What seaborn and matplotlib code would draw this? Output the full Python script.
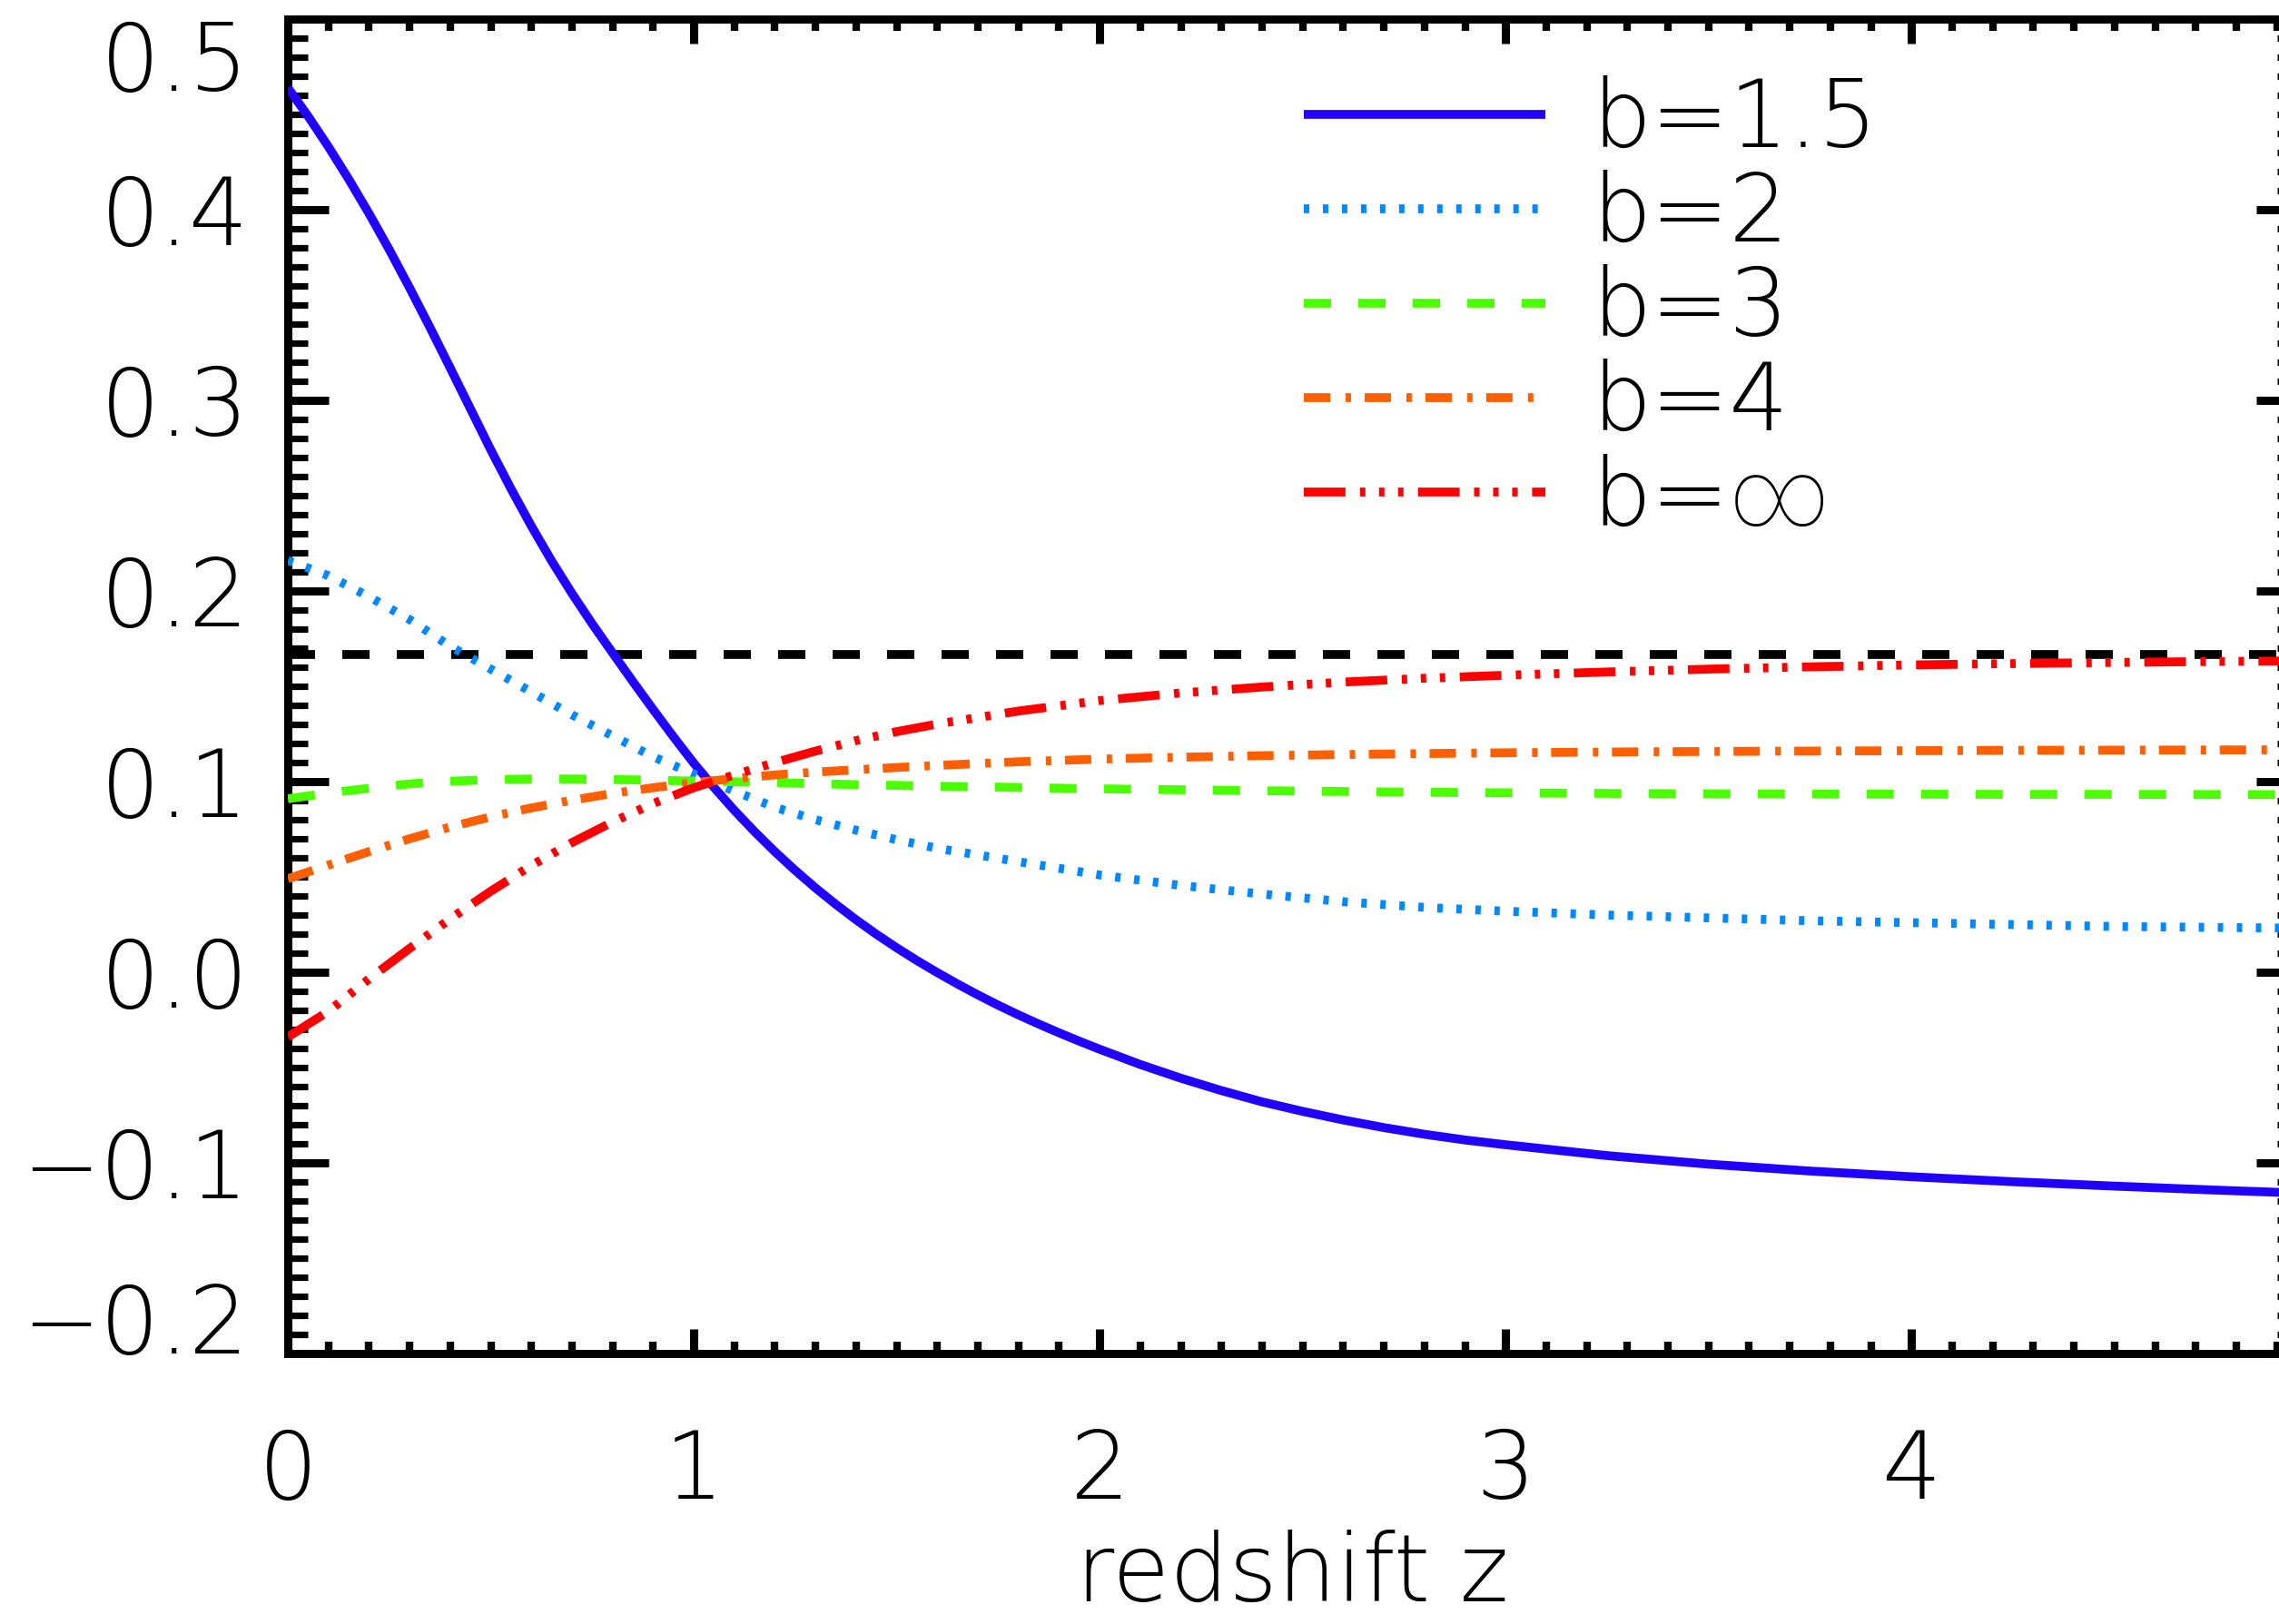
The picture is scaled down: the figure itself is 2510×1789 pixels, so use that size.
import matplotlib
matplotlib.use("Agg")
import matplotlib.pyplot as plt
import seaborn as sns
import pandas as pd
from matplotlib import font_manager as fm
from matplotlib.ticker import FixedLocator, FixedFormatter, MultipleLocator

# ---------------- data ----------------
# b = 1.5 (steep curve, read on a finer redshift grid)
z_b15 = [0.0, 0.05, 0.1, 0.15, 0.2, 0.25, 0.3, 0.35, 0.4, 0.45, 0.5, 0.55, 0.6,
         0.65, 0.7, 0.75, 0.8, 0.85, 0.9, 0.95, 1.0, 1.05, 1.1, 1.15, 1.2, 1.25,
         1.3, 1.35, 1.4, 1.45, 1.5, 1.55, 1.6, 1.65, 1.7, 1.75, 1.8, 1.85, 1.9,
         1.95, 2.0, 2.1, 2.2, 2.3, 2.4, 2.5, 2.6, 2.7, 2.8, 2.9, 3.0, 3.25, 3.5,
         3.75, 4.0, 4.25, 4.5, 4.75, 5.0]
b_1p5 = [0.464, 0.449, 0.433, 0.416, 0.398, 0.379, 0.359, 0.3383, 0.317, 0.2955,
         0.274, 0.2535, 0.234, 0.2157, 0.1987, 0.1827, 0.1675, 0.1525, 0.1378,
         0.1235, 0.1097, 0.0969, 0.0849, 0.0737, 0.0632, 0.0534, 0.0442, 0.0356,
         0.0275, 0.0199, 0.0128, 0.0061, -0.0002, -0.0062, -0.0119, -0.0173,
         -0.0224, -0.0272, -0.0318, -0.0362, -0.0404, -0.0484, -0.0556, -0.0621,
         -0.0680, -0.0730, -0.0775, -0.0815, -0.0850, -0.0880, -0.0905, -0.0962,
         -0.1007, -0.1043, -0.1073, -0.1099, -0.1122, -0.1143, -0.1162]

# other curves
z = [0.0, 0.1, 0.2, 0.3, 0.4, 0.5, 0.6, 0.7, 0.8, 0.9, 1.0, 1.1, 1.2, 1.3, 1.4,
     1.5, 1.6, 1.8, 2.0, 2.2, 2.4, 2.6, 2.8, 3.0, 3.25, 3.5, 3.75, 4.0, 4.25,
     4.5, 4.75, 5.0]
b_2 = [0.216, 0.208, 0.197, 0.185, 0.171, 0.159, 0.147, 0.135, 0.124, 0.113,
       0.104, 0.095, 0.0865, 0.080, 0.0745, 0.0695, 0.065, 0.058, 0.051, 0.0455,
       0.041, 0.037, 0.034, 0.032, 0.030, 0.0285, 0.027, 0.026, 0.025, 0.024,
       0.0235, 0.023]
b_3 = [0.091, 0.094, 0.0965, 0.0988, 0.1002, 0.1010, 0.1014, 0.1014, 0.1011,
       0.1007, 0.1003, 0.0999, 0.0994, 0.0989, 0.0984, 0.0980, 0.0976, 0.0969,
       0.0962, 0.0957, 0.0952, 0.0948, 0.0944, 0.0941, 0.0938, 0.0936, 0.0935,
       0.0934, 0.0933, 0.0933, 0.0932, 0.0932]
b_4 = [0.049, 0.0562, 0.0633, 0.0700, 0.0762, 0.0815, 0.0862, 0.0902, 0.0938,
       0.0968, 0.0994, 0.1016, 0.1035, 0.1050, 0.1062, 0.1074, 0.1085, 0.1104,
       0.1118, 0.1128, 0.1136, 0.1142, 0.1147, 0.1151, 0.1155, 0.1158, 0.1160,
       0.1162, 0.1164, 0.1165, 0.1166, 0.1167]
b_inf = [-0.034, -0.0205, -0.0035, 0.0125, 0.0280, 0.0425, 0.0560, 0.0680,
         0.0788, 0.0885, 0.0968, 0.1035, 0.1100, 0.1160, 0.1215, 0.1262, 0.1302,
         0.1370, 0.1425, 0.1465, 0.1496, 0.1522, 0.1542, 0.1558, 0.1575, 0.1590,
         0.1602, 0.1612, 0.1619, 0.1625, 0.1630, 0.1634]

reference_level = 1.0 / 6.0

series_labels = ["b=1.5", "b=2", "b=3", "b=4", "b=\u221e"]
x_ticks = [0, 1, 2, 3, 4]
x_tick_labels = ["0", "1", "2", "3", "4"]
y_ticks = [-0.2, -0.1, 0.0, 0.1, 0.2, 0.3, 0.4, 0.5]
y_tick_labels = ["\u22120.2", "\u22120.1", "0.0", "0.1", "0.2", "0.3", "0.4", "0.5"]
x_label = "redshift z"

# ---------------- styling ----------------
sns.set_theme(style="ticks")


def pick_light_font():
    best = None
    prefs = ["DejaVu Sans", "Roboto", "Lato", "Open Sans", "Inter", "Noto Sans"]
    for rank, fam in enumerate(prefs):
        for f in fm.fontManager.ttflist:
            if f.name != fam or f.style != "normal":
                continue
            w = f.weight
            if isinstance(w, str):
                w = fm.weight_dict.get(w, 400)
            if w <= 300:
                score = (abs(w - 200), rank)
                if best is None or score < best[0]:
                    best = (score, fam, w)
    if best is None:
        return "DejaVu Sans", 400
    return best[1], best[2]


fam, weight = pick_light_font()
families = [fam, "Roboto", "Noto Sans", "Liberation Sans", "DejaVu Sans"]
plt.rcParams["font.family"] = families
plt.rcParams["font.weight"] = weight
plt.rcParams["axes.labelweight"] = weight
plt.rcParams["axes.unicode_minus"] = True
plt.rcParams["lines.scale_dashes"] = False

FS = 74
W_IN, H_IN, DPI = 25.10, 17.89, 100

fig = plt.figure(figsize=(W_IN, H_IN), dpi=DPI, facecolor="white")
# axes: left spine at x=317px, right spine just outside the image
ax = fig.add_axes([317 / 2510, 298 / 1789, (2530 - 317) / 2510, (1768 - 298) / 1789])
ax.set_facecolor("white")

LW = 7.0
styles = [
    dict(color="#2200ff", linestyle="-"),
    dict(color="#0088ff", linestyle=(0, (4.3, 10.8))),
    dict(color="#4cff00", linestyle=(0, (21.6, 21.6))),
    dict(color="#ff5f00", linestyle=(0, (20.9, 12.2, 4.3, 10.8))),
    dict(color="#ff0000", linestyle=(0, (33.0, 11.5, 4.3, 10.8, 4.3, 10.8, 4.3, 11.5))),
]
series_x = [z_b15, z, z, z, z]
series_values = [b_1p5, b_2, b_3, b_4, b_inf]

ax.axhline(reference_level, color="black", lw=LW, linestyle=(0, (21.6, 21.6)), zorder=2)

handles = []
for lab, xs, vals, st in zip(series_labels, series_x, series_values, styles):
    df = pd.DataFrame({"z": xs, "v": vals})
    sns.lineplot(data=df, x="z", y="v", ax=ax, color=st["color"],
                 linestyle=st["linestyle"], lw=LW, label=lab, legend=False,
                 zorder=3, solid_capstyle="butt", dash_capstyle="butt",
                 solid_joinstyle="round", dash_joinstyle="round")
    handles.append(ax.lines[-1])

ax.set_xlim(0, 4.95)
ax.set_ylim(-0.2, 0.5)

for s in ax.spines.values():
    s.set_linewidth(6.5)
    s.set_color("black")
    s.set_visible(True)

ax.xaxis.set_major_locator(FixedLocator(x_ticks))
ax.xaxis.set_major_formatter(FixedFormatter(x_tick_labels))
ax.xaxis.set_minor_locator(MultipleLocator(0.1))
ax.yaxis.set_major_locator(FixedLocator(y_ticks))
ax.yaxis.set_major_formatter(FixedFormatter(y_tick_labels))
ax.yaxis.set_minor_locator(MultipleLocator(0.01))

ax.tick_params(which="both", direction="in", top=True, right=True,
               bottom=True, left=True, color="black")
ax.tick_params(axis="x", which="major", length=19.5, width=6.5, pad=58,
               labelsize=FS, labelcolor="black")
ax.tick_params(axis="x", which="minor", length=9.5, width=6.0)
ax.tick_params(axis="y", which="major", length=32.5, width=6.5, pad=31,
               labelsize=FS, labelcolor="black")
ax.tick_params(axis="y", which="minor", length=15.8, width=5.2)

ax.set_xlabel(x_label, fontsize=FS, color="black", fontweight=weight)
ax.set_ylabel("")
ax.xaxis.label.set_va("baseline")
ax.xaxis.set_label_coords(0.5, -(1764 - 1491) / 1470)

ax.grid(False)

leg = ax.legend(handles=handles, labels=series_labels, loc="upper left",
                bbox_to_anchor=(1436 / 2510, 1 - 83 / 1789),
                bbox_transform=fig.transFigure, frameon=False, fontsize=FS,
                handlelength=2.59, handletextpad=0.50, labelspacing=0.04,
                borderpad=0.0, borderaxespad=0.0)
for t in leg.get_texts():
    t.set_color("black")
    t.set_fontweight(weight)

fig.canvas.draw()
# IDL-style: extreme y labels kept inside the axis range
for tk in ax.yaxis.get_major_ticks():
    txt = tk.label1.get_text()
    if txt == "0.5":
        tk.label1.set_va("top")
    elif txt == "\u22120.2":
        tk.label1.set_va("baseline")

fig.savefig("out.png", dpi=DPI, facecolor="white")
